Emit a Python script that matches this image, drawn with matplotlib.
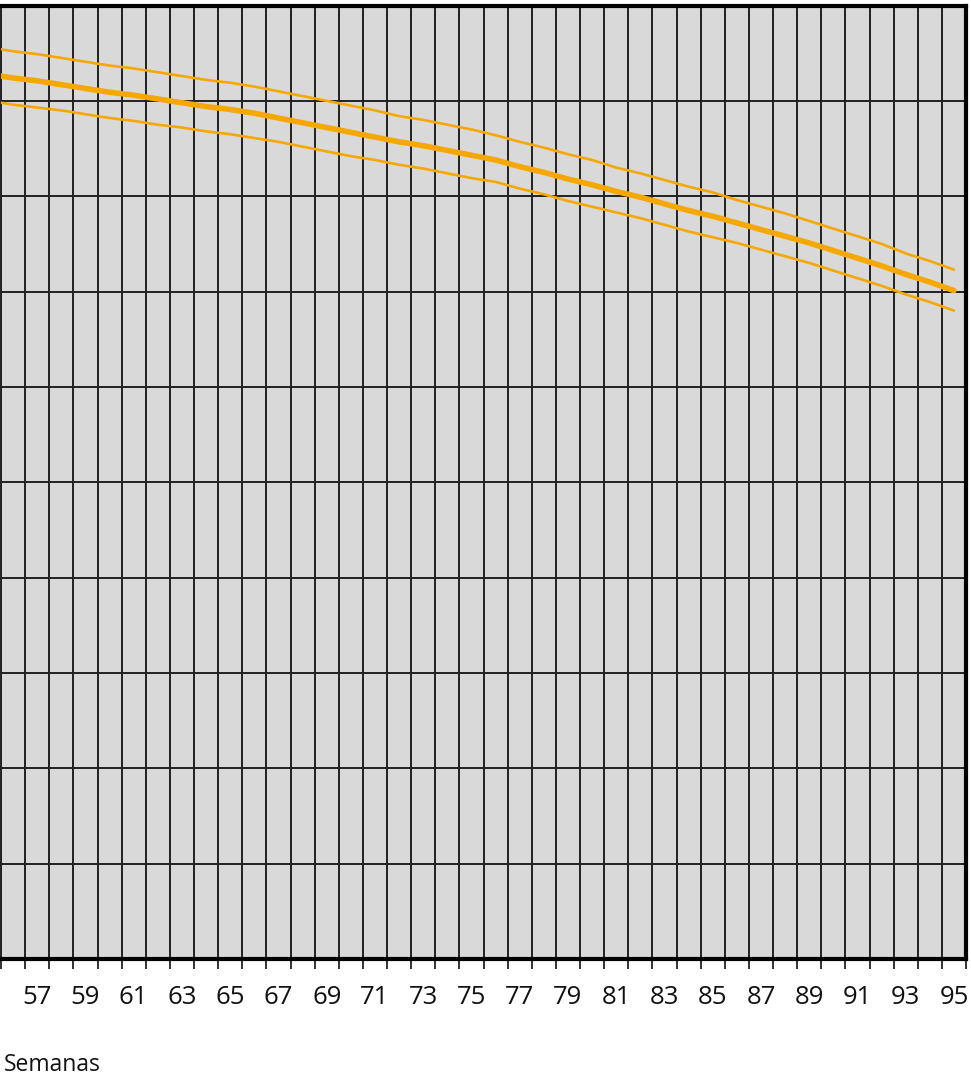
import matplotlib
matplotlib.use("Agg")
import matplotlib.pyplot as plt
from matplotlib.ticker import FixedLocator, NullFormatter

weeks = list(range(55, 96))
mean_line = [92.8, 92.4, 92.1, 91.7, 91.3, 90.9, 90.6, 90.2, 89.8, 89.4,
             89.1, 88.7, 88.2, 87.7, 87.2, 86.7, 86.2, 85.7, 85.3, 84.8,
             84.3, 83.8, 83.1, 82.5, 81.8, 81.2, 80.5, 79.9, 79.2, 78.5,
             77.9, 77.2, 76.5, 75.8, 75.1, 74.3, 73.5, 72.7, 71.8, 71.0, 70.1]
upper_line = [95.6, 95.2, 94.9, 94.5, 94.1, 93.7, 93.4, 93.0, 92.6, 92.2,
              91.9, 91.5, 91.0, 90.5, 90.0, 89.5, 89.0, 88.4, 88.0, 87.5,
              87.0, 86.4, 85.7, 85.1, 84.4, 83.8, 83.0, 82.4, 81.7, 81.0,
              80.4, 79.6, 78.9, 78.2, 77.4, 76.6, 75.8, 75.0, 74.0, 73.2, 72.3]
lower_line = [90.0, 89.6, 89.3, 89.0, 88.6, 88.2, 87.9, 87.5, 87.2, 86.8,
              86.5, 86.1, 85.7, 85.2, 84.7, 84.2, 83.8, 83.3, 82.9, 82.4,
              81.9, 81.5, 80.8, 80.2, 79.5, 78.9, 78.3, 77.7, 77.0, 76.3,
              75.7, 75.1, 74.4, 73.7, 73.0, 72.2, 71.4, 70.6, 69.7, 68.9, 68.0]
tick_labels = [str(w) for w in range(57, 96, 2)]
x_label = "Semanas"

W, H = 971, 1080
fig = plt.figure(figsize=(W / 100, H / 100), dpi=100)
left, right, top, bottom = 1, 966, 5.5, 959
ax = fig.add_axes([left / W, 1 - bottom / H, (right - left) / W, (bottom - top) / H])
ax.set_facecolor("#D9D9D9")

ax.set_xlim(55.5, 95.5)
ax.set_ylim(0, 100)

orange = "#F7A800"
ax.plot(weeks, upper_line, color=orange, lw=1.9, solid_capstyle="round", zorder=3)
ax.plot(weeks, lower_line, color=orange, lw=1.9, solid_capstyle="round", zorder=3)
ax.plot(weeks, mean_line, color=orange, lw=4.0, solid_capstyle="round", zorder=4)

# grid
ax.xaxis.set_minor_locator(FixedLocator([w + 0.5 for w in range(55, 96)]))
ax.set_xticks([int(t) for t in tick_labels])
ax.set_xticklabels(tick_labels, fontsize=18.5, family="Open Sans", color="#111111")
ax.tick_params(axis="x", which="major", length=0, pad=19)
ax.tick_params(axis="x", which="minor", length=7, width=1.3, color="#222222")
ax.set_yticks(range(10, 100, 10))
ax.yaxis.set_major_formatter(NullFormatter())
ax.tick_params(axis="y", which="both", length=0)
ax.grid(True, axis="x", which="minor", color="#222222", lw=1.4, zorder=1)
ax.grid(True, axis="y", which="major", color="#222222", lw=1.4, zorder=1)
ax.set_axisbelow(True)

for s in ["top", "right", "bottom"]:
    ax.spines[s].set_linewidth(3.0)
    ax.spines[s].set_color("black")
ax.spines["left"].set_linewidth(1.4)
ax.spines["left"].set_color("#222222")

fig.text(4 / W, 1 - 1065 / H, x_label, fontsize=16.5, family="Open Sans",
         color="#111111", ha="left", va="center")

fig.savefig("out.png", dpi=100)
